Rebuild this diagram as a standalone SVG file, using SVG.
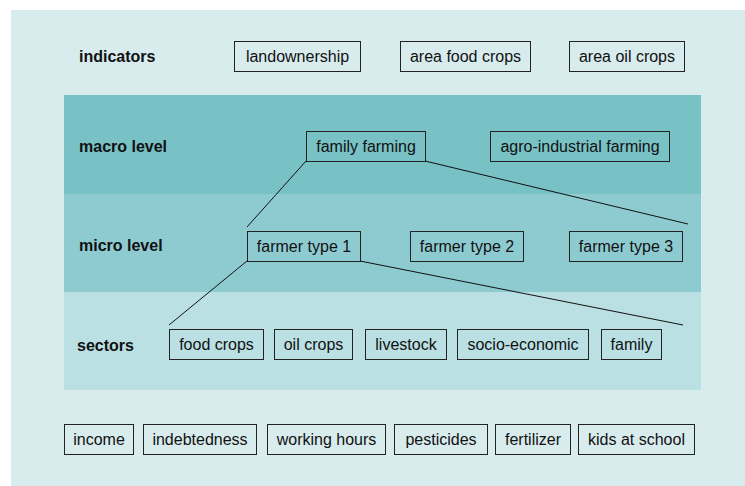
<svg xmlns="http://www.w3.org/2000/svg" width="745" height="486" viewBox="0 0 745 486">
<style>
.box{fill:none;stroke:#222;stroke-width:1}
.t{font-family:"Liberation Sans",Arial,sans-serif;font-size:16px;fill:#111;text-anchor:middle;dominant-baseline:central}
.lbl{font-family:"Liberation Sans",Arial,sans-serif;font-size:16px;font-weight:bold;fill:#111;dominant-baseline:central}
.c{stroke:#111;stroke-width:1;fill:none}
</style>
<rect width="745" height="486" fill="#fff"/>
<rect x="11" y="10" width="734" height="476" fill="#d8ecee"/>
<rect x="64" y="95" width="637" height="99" fill="#78c1c5"/>
<rect x="64" y="194" width="637" height="98" fill="#8ecbd1"/>
<rect x="64" y="292" width="637" height="98" fill="#bae0e3"/>
<g id="labels">
<text class="lbl" x="79" y="56">indicators</text>
<text class="lbl" x="79" y="146">macro level</text>
<text class="lbl" x="79" y="245">micro level</text>
<text class="lbl" x="77" y="345">sectors</text>
</g>
<g id="connectors">
<line class="c" x1="306" y1="161" x2="247" y2="227"/>
<line class="c" x1="425" y1="161" x2="688" y2="224"/>
<line class="c" x1="247" y1="261" x2="169" y2="325"/>
<line class="c" x1="360" y1="261" x2="683" y2="325"/>
</g>
<g id="landownership"><rect class="box" x="234.5" y="41.5" width="126" height="30"/><text class="t" x="297.5" y="56.5">landownership</text></g>
<g id="area-food-crops"><rect class="box" x="400.5" y="41.5" width="130" height="30"/><text class="t" x="465.5" y="56.5">area food crops</text></g>
<g id="area-oil-crops"><rect class="box" x="569.5" y="41.5" width="115" height="30"/><text class="t" x="627" y="56.5">area oil crops</text></g>
<g id="family-farming"><rect class="box" x="306.5" y="131.5" width="119" height="30"/><text class="t" x="366" y="146.5">family farming</text></g>
<g id="agro-industrial-farming"><rect class="box" x="490.5" y="131.5" width="179" height="30"/><text class="t" x="580" y="146.5">agro-industrial farming</text></g>
<g id="farmer-type-1"><rect class="box" x="247.5" y="231.5" width="113" height="30"/><text class="t" x="304" y="246.5">farmer type 1</text></g>
<g id="farmer-type-2"><rect class="box" x="410.5" y="231.5" width="113" height="30"/><text class="t" x="467" y="246.5">farmer type 2</text></g>
<g id="farmer-type-3"><rect class="box" x="569.5" y="231.5" width="113" height="30"/><text class="t" x="626" y="246.5">farmer type 3</text></g>
<g id="food-crops"><rect class="box" x="169.5" y="329.5" width="94" height="30"/><text class="t" x="216.5" y="344.5">food crops</text></g>
<g id="oil-crops"><rect class="box" x="274.5" y="329.5" width="78" height="30"/><text class="t" x="313.5" y="344.5">oil crops</text></g>
<g id="livestock"><rect class="box" x="365.5" y="329.5" width="81" height="30"/><text class="t" x="406" y="344.5">livestock</text></g>
<g id="socio-economic"><rect class="box" x="457.5" y="329.5" width="131" height="30"/><text class="t" x="523" y="344.5">socio-economic</text></g>
<g id="family"><rect class="box" x="601.5" y="329.5" width="60" height="30"/><text class="t" x="631.5" y="344.5">family</text></g>
<g id="income"><rect class="box" x="64.5" y="424.5" width="69" height="30"/><text class="t" x="99" y="439.5">income</text></g>
<g id="indebtedness"><rect class="box" x="143.5" y="424.5" width="113" height="30"/><text class="t" x="200" y="439.5">indebtedness</text></g>
<g id="working-hours"><rect class="box" x="267.5" y="424.5" width="118" height="30"/><text class="t" x="326.5" y="439.5">working hours</text></g>
<g id="pesticides"><rect class="box" x="394.5" y="424.5" width="93" height="30"/><text class="t" x="441" y="439.5">pesticides</text></g>
<g id="fertilizer"><rect class="box" x="495.5" y="424.5" width="75" height="30"/><text class="t" x="533" y="439.5">fertilizer</text></g>
<g id="kids-at-school"><rect class="box" x="578.5" y="424.5" width="116" height="30"/><text class="t" x="636.5" y="439.5">kids at school</text></g>
</svg>
